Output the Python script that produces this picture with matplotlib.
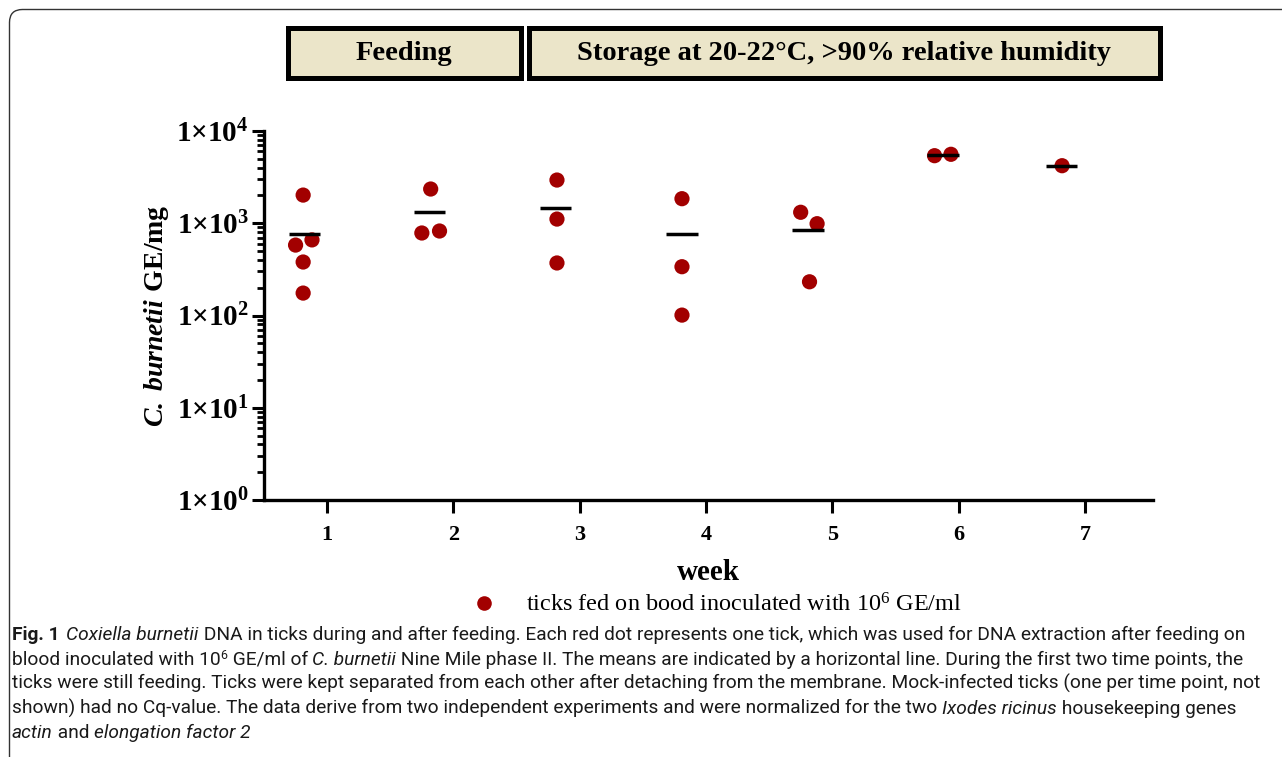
import numpy as np
import matplotlib
matplotlib.use("Agg")
import matplotlib.pyplot as plt
from matplotlib.patches import Rectangle, FancyBboxPatch
from matplotlib import font_manager

plt.rcParams['mathtext.fontset'] = 'custom'
plt.rcParams['mathtext.rm'] = 'Liberation Serif'
plt.rcParams['mathtext.it'] = 'Liberation Serif:italic'
plt.rcParams['mathtext.bf'] = 'Liberation Serif:bold'
plt.rcParams['mathtext.bfit'] = 'Liberation Serif:italic:bold'

# dots: one per tick (x = week position incl. jitter, y = GE/mg)
dot_x = [0.81, 0.75, 0.88, 0.81, 0.81,
         1.82, 1.75, 1.89,
         2.82, 2.82, 2.82,
         3.81, 3.81, 3.81,
         4.75, 4.88, 4.82,
         5.81, 5.94,
         6.82]
dot_y = [2020, 580, 660, 380, 175,
         2350, 784, 824,
         2940, 1110, 371,
         1846, 338, 101,
         1315, 989, 232,
         5400, 5590,
         4205]

# means (horizontal lines)
mean_x = [0.82, 1.81, 2.81, 3.81, 4.81, 5.875, 6.815]
mean_y = [764, 1320, 1465, 765, 845, 5495, 4205]

weeks = [1, 2, 3, 4, 5, 6, 7]
ytick_vals = [1, 10, 100, 1000, 10000]
ytick_labels = [r'$\mathbf{1{\times}10^{%d}}$' % i for i in range(5)]

header_labels = ['Feeding', 'Storage at 20-22°C, >90% relative humidity']

W, H = 1282, 757
fig = plt.figure(figsize=(W / 100, H / 100), dpi=100)

def fx(px):
    return px / W

def fy(py):
    return 1 - py / H

ax = fig.add_axes([fx(264), fy(500), fx(1153) - fx(264), fy(131) - fy(500)])
ax.set_yscale('log')
ax.set_ylim(1, 10000)
ax.set_xlim(0.5, 7.54)

red = '#a20000'
ax.scatter(dot_x, dot_y, s=120, color=red, edgecolors='none', zorder=3)
ax.hlines(mean_y, np.array(mean_x) - 0.125, np.array(mean_x) + 0.125,
          color='black', lw=2.5, zorder=4)

for s in ['top', 'right']:
    ax.spines[s].set_visible(False)
for s in ['left', 'bottom']:
    ax.spines[s].set_linewidth(2.4)

ax.set_xticks(weeks)
ax.set_xticklabels([str(w) for w in weeks], fontfamily='Liberation Serif',
                   fontweight='bold', fontsize=16)
ax.set_yticks(ytick_vals)
ax.set_yticklabels(ytick_labels, fontsize=21)
ax.yaxis.set_minor_locator(matplotlib.ticker.LogLocator(base=10, subs=np.arange(2, 10)))
ax.yaxis.set_minor_formatter(matplotlib.ticker.NullFormatter())
ax.tick_params(axis='both', which='major', direction='out', length=9, width=2.2, pad=2)
ax.tick_params(axis='y', which='minor', direction='out', length=5, width=2.0)
ax.tick_params(axis='x', which='major', pad=9)

ax.set_xlabel('week', fontfamily='Liberation Serif', fontweight='bold', fontsize=21, labelpad=10)
ax.set_ylabel(r'$\mathbfit{C.\ burnetii}$ $\mathbf{GE/mg}$', fontsize=20, labelpad=4)

# header boxes
beige = '#ebe5c9'
for (x0, x1), lab in zip([(285, 523), (526, 1162)], header_labels):
    r = Rectangle((fx(x0 + 2.5), fy(80 - 2.5)), fx(x1 - x0 - 5), fy(25 + 2.5) - fy(80 - 2.5),
                  transform=fig.transFigure, facecolor=beige, edgecolor='black', lw=3.6)
    fig.patches.append(r)
    fig.text(fx((x0 + x1) / 2), fy(54), lab, ha='center', va='center',
             fontfamily='Liberation Serif', fontweight='bold', fontsize=20.5)

# outer panel border
panel = FancyBboxPatch((9.5, -40), 1400, H - 9.5 + 40,
                       boxstyle='round,pad=0,rounding_size=13',
                       transform=None, facecolor='none', edgecolor='#333333', lw=1.0)
fig.patches.append(panel)

# legend
fig.lines.append(matplotlib.lines.Line2D([fx(484)], [fy(603)], marker='o', ms=10.5,
                                         color=red, mec='none', transform=fig.transFigure))
fig.text(fx(526), fy(611), r'ticks fed on bood inoculated with 10$^{6}$ GE/ml',
         ha='left', va='baseline', fontfamily='Liberation Serif', fontsize=17.5)

# caption
cap_font = 'Roboto'
try:
    font_manager.findfont(cap_font, fallback_to_default=False)
except Exception:
    cap_font = 'DejaVu Sans'

caption = [
    [('Fig. 1', 'b'), ('  ', 'r'), ('Coxiella burnetii', 'i'),
     (' DNA in ticks during and after feeding. Each red dot represents one tick, which was used for DNA extraction after feeding on', 'r')],
    [('blood inoculated with 10', 'r'), ('6', 's'), (' GE/ml of ', 'r'), ('C. burnetii', 'i'),
     (' Nine Mile phase II. The means are indicated by a horizontal line. During the first two time points, the', 'r')],
    [('ticks were still feeding. Ticks were kept separated from each other after detaching from the membrane. Mock-infected ticks (one per time point, not', 'r')],
    [('shown) had no Cq-value. The data derive from two independent experiments and were normalized for the two ', 'r'),
     ('Ixodes ricinus', 'i'), (' housekeeping genes', 'r')],
    [('actin', 'i'), (' and ', 'r'), ('elongation factor 2', 'i')],
]
baselines = [640, 665, 689, 714, 738]
line_ends = [1265, 1262, 1264]

renderer = fig.canvas.get_renderer()

def draw_line(runs, x0, base, size, draw=True):
    x = x0
    for txt, st in runs:
        kw = dict(fontfamily=cap_font, fontsize=size, ha='left', va='baseline', color='#1a1a1a')
        yy = base
        if st == 'b':
            kw['fontweight'] = 'bold'
        elif st == 'i':
            kw['fontstyle'] = 'italic'
        elif st == 's':
            kw['fontsize'] = size * 0.65
            yy = base - size * 0.45
        t = fig.text(fx(x), fy(yy), txt, **kw)
        if txt.strip() == '':
            t.set_text('.' * len(txt))
            w = t.get_window_extent(renderer).width * 0.7
            t.set_text(txt)
        else:
            w = t.get_window_extent(renderer).width
        if not draw:
            t.remove()
        x += w
    return x - x0

cap_size = min(10 * (e - 12) / draw_line(caption[i], 12, baselines[i], 10, draw=False)
               for i, e in enumerate(line_ends))
for runs, b in zip(caption, baselines):
    draw_line(runs, 12, b, cap_size)

fig.savefig('out.png', dpi=100)
